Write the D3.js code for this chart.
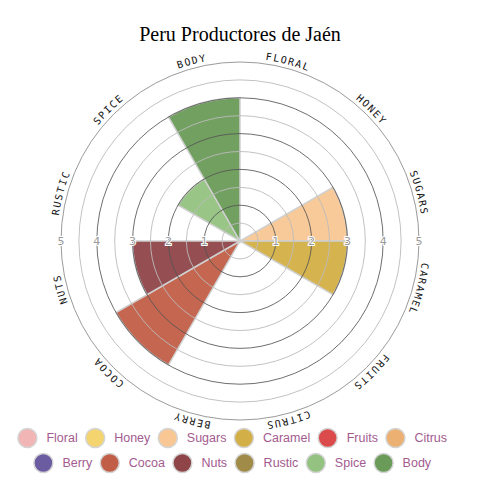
<!DOCTYPE html>
<html>
<head>
<meta charset="utf-8">
<script src="https://cdn.jsdelivr.net/npm/d3@7"></script>
<style>
  html, body { margin: 0; padding: 0; background: #fff; }
  svg { display: block; }
</style>
</head>
<body>
<script>
const title = "Peru Productores de Jaén";
const categories = ["Floral","Honey","Sugars","Caramel","Fruits","Citrus","Berry","Cocoa","Nuts","Rustic","Spice","Body"];
const values = [0, 0, 3, 3, 0, 0, 0, 4, 3, 0, 2, 4];
const colors = ["#f2b5b5","#f3d46e","#f8c794","#d3b047","#db4b4b","#ecb172","#6b5ba1","#c15e47","#8f4548","#a08b49","#93c281","#6a9b59"];
const ticks = [1, 2, 3, 4, 5];
const gridSteps = [0.5,1,1.5,2,2.5,3,3.5,4,4.5,5];

const W = 480, H = 480;
const cx = 240, cy = 241;
const svg = d3.select("body").append("svg").attr("width", W).attr("height", H);

svg.append("text")
  .attr("x", 240).attr("y", 41)
  .attr("text-anchor", "middle")
  .attr("font-family", "'Liberation Serif', 'Times New Roman', serif")
  .attr("font-size", 20)
  .attr("fill", "#000")
  .text(title);

const r = d3.scaleLinear().domain([0, 5]).range([0, 179]);
const n = categories.length;
const step = 2 * Math.PI / n;

const g = svg.append("g").attr("transform", `translate(${cx},${cy})`);

// wedges
const arc = d3.arc().innerRadius(0);
g.selectAll("path.wedge")
  .data(values.map((v, i) => ({v, i})))
  .join("path")
  .attr("class", "wedge")
  .attr("d", d => arc({outerRadius: r(d.v), startAngle: d.i * step, endAngle: (d.i + 1) * step}))
  .attr("fill", d => colors[d.i])
  .attr("fill-opacity", 0.95)
  .attr("stroke", "#d0d0d0")
  .attr("stroke-width", 1.5);

// grid circles
g.selectAll("circle.grid")
  .data(gridSteps)
  .join("circle")
  .attr("class", "grid")
  .attr("r", d => r(d))
  .attr("fill", "none")
  .attr("stroke", d => d === 5 ? "#888" : (Number.isInteger(d) ? "#555" : "#bbb"))
  .attr("stroke-opacity", d => Number.isInteger(d) ? 0.85 : 0.9)
  .attr("stroke-width", 1);

// tick labels both sides
const tickData = [];
ticks.forEach(t => { tickData.push({t, x: r(t)}); tickData.push({t, x: -r(t)}); });
g.selectAll("text.tick")
  .data(tickData)
  .join("text")
  .attr("class", "tick")
  .attr("x", d => d.x)
  .attr("y", 0)
  .attr("dy", "0.35em")
  .attr("text-anchor", "middle")
  .attr("font-family", "'DejaVu Sans', sans-serif")
  .attr("font-size", 11)
  .attr("fill", "#999")
  .attr("stroke", "#fff")
  .attr("stroke-width", 2)
  .attr("paint-order", "stroke")
  .text(d => d.t);

// curved category labels
const labelR = 183;
const defs = svg.append("defs");
categories.forEach((c, i) => {
  const a0 = i * step, a1 = (i + 1) * step;
  const x0 = labelR * Math.sin(a0), y0 = -labelR * Math.cos(a0);
  const x1 = labelR * Math.sin(a1), y1 = -labelR * Math.cos(a1);
  defs.append("path")
    .attr("id", "lp" + i)
    .attr("d", `M${cx + x0},${cy + y0} A${labelR},${labelR} 0 0 1 ${cx + x1},${cy + y1}`);
});
svg.selectAll("text.cat")
  .data(categories)
  .join("text")
  .attr("class", "cat")
  .attr("font-family", "'DejaVu Sans Mono', monospace")
  .attr("font-size", 10)
  .attr("letter-spacing", 1.5)
  .attr("fill", "#111")
  .append("textPath")
  .attr("href", (d, i) => "#lp" + i)
  .attr("startOffset", "50%")
  .attr("text-anchor", "middle")
  .text(d => d.toUpperCase());

// legend
const legendRows = [[0,1,2,3,4,5],[6,7,8,9,10,11]];
const rowY = [438, 463];
const legend = svg.append("g");
legendRows.forEach((row, ri) => {
  const items = legend.append("g");
  let x = 0;
  row.forEach((idx, k) => {
    const it = items.append("g");
    it.append("circle")
      .attr("cx", x + 9.5).attr("cy", 0).attr("r", 9.5)
      .attr("fill", colors[idx])
      .attr("stroke", "#d4d4d4").attr("stroke-width", 1.5);
    const t = it.append("text")
      .attr("x", x + 28.5).attr("y", 0).attr("dy", "0.35em")
      .attr("font-family", "'Liberation Sans', Arial, sans-serif")
      .attr("font-size", 12.5)
      .attr("fill", "#a35b8f")
      .text(categories[idx]);
    x += 28.5 + t.node().getComputedTextLength() + 8;
  });
  const total = x - 8;
  items.attr("transform", `translate(${232.5 - total / 2},${rowY[ri]})`);
});
</script>
</body>
</html>
